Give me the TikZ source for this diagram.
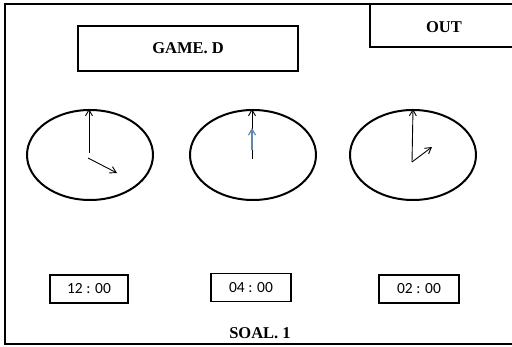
\documentclass[tikz,border=0pt]{standalone}
\usepackage{fontspec}
\setmainfont{Liberation Serif}
\newfontfamily\digitfont{Carlito}
\usetikzlibrary{arrows.meta,positioning,calc,shapes.geometric}
\definecolor{handblue}{RGB}{95,135,175}

\tikzset{
  titlebox/.style={draw, line width=1.8pt, minimum width=220pt, minimum height=45pt, font=\fontsize{16.5}{18}\selectfont\bfseries},
  clockface/.style={draw, ellipse, line width=2pt, minimum width=126pt, minimum height=90pt, inner sep=0pt},
  timebox/.style={draw, line width=1.8pt, minimum width=80pt, minimum height=28pt, inner sep=0pt, font=\digitfont\fontsize{15.5}{17}\selectfont},
  hand/.style={line width=0.9pt, -{Straight Barb[length=6pt,width=7pt]}}
}

\begin{document}
\begin{tikzpicture}[x=1pt,y=1pt]
    \useasboundingbox (0,0) rectangle (512,347);

    % outer frame (open on the right)
    \draw[line width=1.8pt] (512,343) -- (5,343) -- (5,3) -- (512,3);

    % OUT corner
    \draw[line width=1.8pt] (512,300) -- (370,300) -- (370,343);
    \node[font=\fontsize{16.5}{18}\selectfont\bfseries] (out) at (444,320) {OUT};

    % title
    \node[titlebox] (title) at (188,298.5) {GAME. D};

    % clock faces
    \node[clockface] (clockA) at (90,192) {};
    \node[clockface] (clockB) at (253,192) {};
    \node[clockface] (clockC) at (413,192) {};

    % hands of clock A
    \coordinate (hubA) at (89,194);
    \draw[hand] (hubA) -- (clockA.north -| hubA);
    \coordinate (hubAh) at (88,189);
    \coordinate (tipA) at (117,174);
    \draw[hand] (hubAh) -- (tipA);

    % hands of clock B (blue hand lies on the black one)
    \coordinate (hubB) at (252,188);
    \draw[hand] (hubB) -- (clockB.north -| hubB);
    \coordinate (hubBb) at (252,197);
    \coordinate (tipB) at (252,219);
    \draw[hand, handblue, line width=1.2pt] (hubBb) -- (tipB);

    % hands of clock C
    \coordinate (hubC) at (412,185);
    \draw[hand] (hubC) -- (clockC.north);
    \coordinate (tipC) at (432,200);
    \draw[hand] (hubC) -- (tipC);

    % time labels
    \node[timebox, minimum width=78pt] (timeA) at (89,58) {12 : 00};
    \node[timebox] (timeB) at (251,59.5) {04 : 00};
    \node[timebox] (timeC) at (419,58) {02 : 00};

    \node[font=\fontsize{16.5}{18}\selectfont\bfseries] (soal) at (260,14) {SOAL. 1};
\end{tikzpicture}
\end{document}
